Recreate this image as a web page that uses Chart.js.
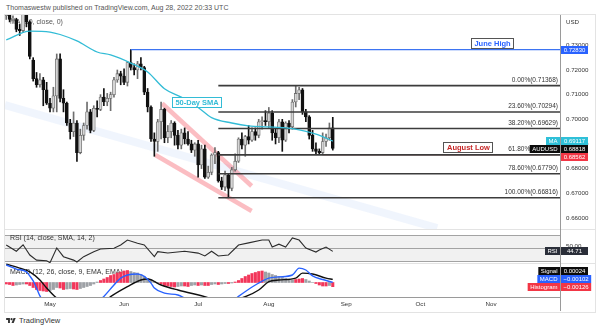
<!DOCTYPE html>
<html>
<head>
<meta charset="utf-8">
<script src="https://cdn.jsdelivr.net/npm/chart.js@4.4.0/dist/chart.umd.min.js"></script>
<style>
	body { margin: 0; width: 600px; height: 330px; background: #fff; position: relative; overflow: hidden; font-family: "Liberation Sans", Arial, sans-serif; }
	#header { position: absolute; left: 6px; top: 4px; font-size: 7px; color: #555; white-space: nowrap; }
	#frame { position: absolute; left: 4px; top: 14px; width: 590px; height: 297px; border: 1px solid #e3e3e3; }
	canvas { position: absolute; left: 5px; }
	#main { top: 15px; }
	#rsi { top: 229px; }
	#macd { top: 263px; }
	#brand { position: absolute; left: 6px; top: 316px; font-size: 7.5px; color: #333; display: flex; align-items: center; gap: 3px; }
</style>
</head>
<body>
<div id="header">Thomaswestw published on TradingView.com, Aug 28, 2022 20:33 UTC</div>
<div id="frame"></div>
<canvas id="main" width="590" height="214"></canvas>
<canvas id="rsi" width="590" height="34"></canvas>
<canvas id="macd" width="590" height="48"></canvas>
<div id="brand"><svg width="10" height="7" viewBox="0 0 36 26"><path d="M14 22H7V11H0V4h14z" fill="#333"/><circle cx="20" cy="8" r="4" fill="#333"/><path d="M28 22h-8l7.5-18h8z" fill="#333"/></svg><span>TradingView</span></div>
<script>
// AUDUSD daily bars, bar index 0 = May 2 2022 (trading days)
const firstBar = -13;
const open = [0.7420,0.7448,0.7405,0.7405,0.7365,0.7360,0.7445,0.7395,0.7240,0.7165,0.7140,0.7160,0.7120,
	0.7065,0.7045,0.7095,0.7245,0.7085,0.7065,0.6985,0.6950,0.6985,0.6865,0.6935,0.6975,0.7030,0.6955,0.7045,0.7040,0.7090,0.7070,0.7085,0.7100,0.7160,0.7185,
	0.7175,0.7150,0.7230,0.7210,0.7200,0.7225,0.7210,0.7110,0.7050,0.6920,0.6910,0.6990,0.7040,0.6925,0.6950,0.6985,0.6935,0.6895,0.6945,0.6920,0.6900,0.6875,
	0.6900,0.6815,0.6880,0.6765,0.6785,0.6855,0.6865,0.6750,0.6725,0.6775,0.6720,0.6795,0.6830,0.6920,0.6895,0.6930,0.6915,0.6950,0.6935,0.6990,0.6995,
	0.6990,0.7025,0.6945,0.6925,0.6990,0.6915,0.6985,0.6970,0.7070,0.7105,0.7120,0.7030,0.7010,0.6935,0.6880,0.6870,0.6865,0.6910,0.6925,0.6965];
const high = [0.7458,0.7460,0.7420,0.7410,0.7385,0.7456,0.7460,0.7400,0.7250,0.7190,0.7185,0.7170,0.7150,
	0.7085,0.7130,0.7265,0.7266,0.7120,0.7070,0.7000,0.7030,0.6995,0.6960,0.6985,0.7070,0.7040,0.7055,0.7075,0.7100,0.7125,0.7105,0.7110,0.7170,0.7200,0.7195,
	0.7205,0.7235,0.7283,0.7225,0.7235,0.7250,0.7215,0.7125,0.7055,0.6945,0.7000,0.7070,0.7045,0.6975,0.6995,0.6990,0.6955,0.6960,0.6965,0.6950,0.6915,0.6905,
	0.6915,0.6895,0.6895,0.6810,0.6860,0.6885,0.6870,0.6765,0.6790,0.6780,0.6805,0.6860,0.6925,0.6945,0.6935,0.6975,0.6965,0.6965,0.7000,0.7010,0.7035,
	0.7048,0.7035,0.6960,0.7000,0.7000,0.6990,0.6995,0.7080,0.71368,0.7130,0.7125,0.7040,0.7015,0.6955,0.6905,0.6880,0.6945,0.6940,0.6985,0.7008];
const low = [0.7405,0.7395,0.7398,0.7355,0.7340,0.7352,0.7375,0.7245,0.7155,0.7130,0.7130,0.7055,0.7060,
	0.7030,0.7030,0.7030,0.7070,0.7030,0.6975,0.6920,0.6930,0.6829,0.6860,0.6915,0.6960,0.6945,0.6950,0.7010,0.7035,0.7055,0.7055,0.7035,0.7090,0.7150,0.7140,
	0.7140,0.7135,0.7200,0.7180,0.7165,0.7200,0.7100,0.7030,0.6910,0.6850,0.6870,0.6920,0.6905,0.6905,0.6925,0.6895,0.6880,0.6880,0.6900,0.6895,0.6865,0.6850,
	0.6765,0.6800,0.6760,0.6760,0.6775,0.6820,0.6745,0.6715,0.6710,0.66816,0.6710,0.6790,0.6825,0.6880,0.6850,0.6900,0.6910,0.6915,0.6925,0.6960,0.6975,
	0.6965,0.6915,0.6900,0.6905,0.6870,0.6910,0.6945,0.6960,0.7050,0.7080,0.7020,0.6990,0.6920,0.6870,0.6860,0.6860,0.68562,0.6890,0.6915,0.6875];
const close = [0.7448,0.7405,0.7410,0.7365,0.7360,0.7445,0.7395,0.7255,0.7165,0.7140,0.7160,0.7120,0.7065,
	0.7045,0.7095,0.7245,0.7085,0.7065,0.6985,0.6950,0.6985,0.6865,0.6935,0.6975,0.7030,0.6955,0.7045,0.7040,0.7090,0.7070,0.7085,0.7100,0.7160,0.7185,0.7175,
	0.7150,0.7230,0.7210,0.7200,0.7225,0.7210,0.7110,0.7050,0.6920,0.6910,0.6990,0.7040,0.6925,0.6950,0.6985,0.6935,0.6895,0.6945,0.6920,0.6900,0.6875,0.6900,
	0.6815,0.6880,0.6765,0.6785,0.6855,0.6865,0.6750,0.6725,0.6775,0.6720,0.6795,0.6830,0.6920,0.6895,0.6930,0.6915,0.6950,0.6935,0.6990,0.6995,0.6990,
	0.7025,0.6945,0.6925,0.6990,0.6915,0.6985,0.6970,0.7070,0.7105,0.7120,0.7030,0.7010,0.6935,0.6880,0.6870,0.6865,0.6910,0.6925,0.6965,0.68818];

// 50-day SMA
const smaIdx = [-13,-6,0,3,8,14,18,24,29,34,39,44,48,54,59,65,70,74,78,81,84];
const smaVal = [0.7322,0.7358,0.7354,0.7344,0.7318,0.7273,0.7261,0.7228,0.7192,0.7124,0.7090,0.7048,0.7007,0.6985,0.6973,0.6969,0.6965,0.6957,0.6944,0.6930,0.69117];

// fibonacci retracement, Jul 14 low to Aug 11 high
const fibStart = 50;
const fibPct = ['0.00%','23.60%','38.20%','61.80%','78.60%','100.00%'];
const fibPrice = [0.71368,0.70294,0.69629,0.68555,0.67790,0.66816];

const juneHigh = 0.72830, juneHighBar = 24;
const augustLow = 0.68562, augustLowBar = 81;

// trend lines: [bar, price] pairs
const wedgeUpper = [[33.3,0.70641],[59.9,0.67294]];
const wedgeLower = [[31.3,0.68552],[59.9,0.66280]];
const channelBand = [[-13.4,0.70580],[115,0.65590]];

// RSI (14)
const rsiIdx = [-13,-10,-8,-6,-4,-1,0,2,4,7,8,10,13,15,19,21,23,26,28,31,32,35,40,44,46,48,50,53,56,59,63,65,66,68,70,72,74,76,79,80,82,84];
const rsiVal = [54.7,45,55,39,31,30,27,50,36.4,31,28,36.4,44.2,48.4,49.5,54.7,62.5,57.4,54.7,36.4,44.2,42.2,45,42,37.5,45,37.5,39,54.7,58,62.5,62.5,51.5,56,51.5,65.7,62.5,50,43.7,47,51.5,44.71];

// MACD (12, 26, 9)
const macdIdx = [-13,-10,-7,-6,-5,-4,-3,-1,2,6,10,13,16,19,21,23,26,28,30,31,34,38,40,43,47,51,55,56,61,65,68,72,74,76,78,81,84];
const macdVal = [0.0063,0.0046,0.0034,0.0017,-0.0004,-0.0034,-0.0067,-0.0105,-0.0126,-0.0139,-0.0134,-0.0105,-0.0069,-0.0021,0.0008,0.0021,0.0025,0.0015,-0.0013,-0.0034,-0.0055,-0.0063,-0.0076,-0.0097,-0.0109,-0.0101,-0.0080,-0.0069,-0.0021,0.0008,0.0013,0.0021,0.0050,0.0042,0.0017,0.0002,-0.00102];
const signalIdx = [-13,-9,-6,-3,-1,2,6,12,16,18,23,27,29,33,38,45,50,54,58,62,65,68,73,75,78,82,84];
const signalVal = [0.0067,0.0050,0.0034,0,-0.0034,-0.0076,-0.0105,-0.0109,-0.0092,-0.0070,-0.0028,0,0.0004,-0.0021,-0.0042,-0.0066,-0.0084,-0.0084,-0.0070,-0.0042,-0.0007,0,0.0008,0.0029,0.0025,0.0008,0.00024];
const histVal = [-0.00045,-0.0006,-0.0009,-0.00075,-0.0006,-0.00045,-0.00045,-0.0009,-0.0015,-0.0021,-0.0024,-0.00255,-0.0027,
	-0.0024,-0.0021,-0.0015,-0.00165,-0.0021,-0.00195,-0.0018,-0.00195,-0.0021,-0.0018,-0.0015,-0.0012,-0.0009,-0.00045,0.00015,0.0006,0.00105,0.0015,0.0021,0.0024,0.00285,0.00315,
	0.00345,0.0036,0.0033,0.003,0.00285,0.0024,0.0018,0.0012,0.00075,0.0003,-0.00015,-0.00045,-0.0009,-0.00105,-0.0012,-0.00135,-0.0012,-0.00105,-0.00105,-0.0012,-0.0009,-0.00075,
	-0.0009,-0.00075,-0.0009,-0.0009,-0.0006,-0.00045,-0.0006,-0.00045,-0.0003,-0.0003,-0.00015,0.00015,0.0006,0.0012,0.0018,0.00225,0.0027,0.003,0.0033,0.00345,0.00315,
	0.00285,0.0024,0.0021,0.0018,0.0015,0.0012,0.0009,0.00075,0.0009,0.00105,0.0012,0.0009,0.00045,0,-0.0003,-0.00075,-0.00105,-0.00105,-0.0009,-0.00126];

// axis labels
const priceTicks = [0.66,0.67,0.68,0.69,0.70,0.71,0.72,0.73];
const monthIdx = [0,22,44,65,88,110,131];
const monthLabels = ['May','Jun','Jul','Aug','Sep','Oct','Nov'];

const FONT = '"Liberation Sans", Arial, sans-serif';
const X_MIN = -13.37, X_MAX = 151.5;
const AXIS_W = 35;
const UP = '#d6d6d6', UP_EDGE = '#6e6e6e', DOWN = '#111';
const SMA_COLOR = '#33bcd6';
const HIST_RED = '#f2365a', HIST_GREY = '#9ea1a6';

const bars = open.map((o, k) => ({ i: firstBar + k, o, h: high[k], l: low[k], c: close[k] }));
const pts = (xs, ys) => xs.map((x, k) => ({ x, y: ys[k] }));
const seg = (p) => p.map(([x, y]) => ({ x, y }));

function label(ctx, str, x, y, size, color, align, weight) {
	ctx.font = (weight || '') + ' ' + size + 'px ' + FONT;
	ctx.fillStyle = color;
	ctx.textAlign = align || 'left';
	ctx.textBaseline = 'middle';
	ctx.fillText(str, x, y);
}

// coloured price tag on the right axis, with an optional name box to its left
function tag(ctx, area, y, value, bg, name) {
	const h = 8;
	ctx.font = '6px ' + FONT;
	const w = Math.max(27, ctx.measureText(value).width + 5);
	ctx.fillStyle = bg;
	ctx.fillRect(area.right + 1, Math.round(y - h / 2), w, h);
	label(ctx, value, area.right + 1 + w / 2, Math.round(y - h / 2) + h / 2 + 0.5, 6, '#fff', 'center');
	if (name) {
		ctx.font = '6px ' + FONT;
		const nw = ctx.measureText(name).width + 5;
		ctx.fillStyle = bg;
		ctx.fillRect(area.right - nw, Math.round(y - h / 2), nw, h);
		label(ctx, name, area.right - nw / 2, Math.round(y - h / 2) + h / 2 + 0.5, 6, '#fff', 'center');
	}
}

function noteBox(ctx, str, cx, cy, color, border) {
	ctx.font = 'bold 7.5px ' + FONT;
	const w = Math.round(ctx.measureText(str).width + 7), h = 11;
	const x0 = Math.round(cx - w / 2), y0 = Math.round(cy - h / 2);
	ctx.fillStyle = '#fff';
	ctx.fillRect(x0, y0, w, h);
	ctx.strokeStyle = border;
	ctx.lineWidth = 1;
	ctx.strokeRect(x0 + 0.5, y0 + 0.5, w - 1, h - 1);
	label(ctx, str, cx, y0 + h / 2 + 0.5, 7.5, color, 'center', 'bold');
}

function axisLine(chart) {
	const { ctx, chartArea: a } = chart;
	ctx.fillStyle = '#9a9a9a';
	ctx.fillRect(Math.round(a.right), 0, 1, chart.height);
}

// ---------- price pane ----------
const mainDecor = {
	id: 'mainDecor',
	beforeDatasetsDraw(chart) {
		label(chart.ctx, 'MA (50, close, 0)', 5, 7.5, 7, '#555');
	},
	afterDatasetsDraw(chart) {
		const { ctx, chartArea: a, scales: { x, y } } = chart;
		ctx.save();
		fibPrice.forEach((p, k) => {
			label(ctx, fibPct[k] + '(' + p.toFixed(5) + ')', a.right - 2, y.getPixelForValue(p) - 5.5, 6.5, '#333', 'right');
		});
		noteBox(ctx, '50-Day SMA', x.getPixelForValue(43.7), y.getPixelForValue(0.70682), SMA_COLOR, SMA_COLOR);
		noteBox(ctx, 'June High', x.getPixelForValue(131.45), y.getPixelForValue(0.73075), '#2962ff', '#555');
		noteBox(ctx, 'August Low', x.getPixelForValue(124.3), y.getPixelForValue(0.68856), '#c62828', '#555');

		axisLine(chart);
		priceTicks.forEach(v => label(ctx, v.toFixed(5), a.right + 6, y.getPixelForValue(v), 6.2, '#333'));
		label(ctx, 'USD', a.right + 6, 7, 6.2, '#333');

		// stacked price tags, pushed down so they never overlap
		const tags = [
			{ v: juneHigh, bg: '#2962ff' },
			{ v: smaVal[smaVal.length - 1], bg: '#2fc0d8', name: 'MA' },
			{ v: close[close.length - 1], bg: '#0c0c0c', name: 'AUDUSD' },
			{ v: augustLow, bg: '#f23645' },
		].map(t => ({ ...t, y: y.getPixelForValue(t.v) })).sort((p, q) => p.y - q.y);
		let last = -99;
		tags.forEach(t => {
			t.y = Math.max(t.y, last + 8);
			last = t.y;
			tag(ctx, a, t.y, t.v.toFixed(5), t.bg, t.name);
		});
		ctx.restore();
	}
};

const hLine = (x0, v, color, width, order) => ({
	type: 'line', data: [{ x: x0, y: v }, { x: X_MAX, y: v }],
	borderColor: color, borderWidth: width, pointRadius: 0, order
});

const mainDatasets = [
	{ type: 'line', data: seg(channelBand), borderColor: 'rgba(90, 140, 235, 0.09)', borderWidth: 8, pointRadius: 0, order: 20 },
	{ type: 'line', data: seg(wedgeUpper), borderColor: 'rgba(242, 54, 69, 0.33)', borderWidth: 4.5, pointRadius: 0, order: 19 },
	{ type: 'line', data: seg(wedgeLower), borderColor: 'rgba(242, 54, 69, 0.33)', borderWidth: 4.5, pointRadius: 0, order: 19 },
	{
		type: 'bar', grouped: false, barThickness: 1, order: 6,
		data: bars.map(b => ({ x: b.i, y: [b.l, b.h] })),
		backgroundColor: bars.map(b => b.c >= b.o ? UP_EDGE : DOWN)
	},
	{
		type: 'bar', grouped: false, barThickness: 3, order: 5, borderSkipped: false,
		data: bars.map(b => ({ x: b.i, y: [Math.min(b.o, b.c), Math.max(b.o, b.c)] })),
		backgroundColor: bars.map(b => b.c >= b.o ? UP : DOWN),
		borderColor: bars.map(b => b.c >= b.o ? UP_EDGE : DOWN),
		borderWidth: 0.8
	},
	hLine(augustLowBar, augustLow, '#e2404f', 1, 4),
	...fibPrice.map(p => hLine(fibStart, p, '#3c3c3c', 1.6, 3)),
	hLine(juneHighBar, juneHigh, '#3d74f2', 1.2, 2),
	{ type: 'line', data: pts(smaIdx, smaVal), borderColor: SMA_COLOR, borderWidth: 1.3, pointRadius: 0, cubicInterpolationMode: 'monotone', order: 1 },
];

const baseOptions = (yScales, bottom) => ({
	responsive: false,
	animation: false,
	devicePixelRatio: 1,
	layout: { padding: { right: AXIS_W, bottom: bottom || 0 } },
	plugins: { legend: { display: false }, tooltip: { enabled: false } },
	scales: Object.assign({ x: { type: 'linear', min: X_MIN, max: X_MAX, display: false, offset: false } }, yScales)
});

new Chart(document.getElementById('main'), {
	type: 'bar',
	data: { datasets: mainDatasets },
	options: baseOptions({ y: { type: 'linear', min: 0.655497, max: 0.742312, beginAtZero: false, display: false } }),
	plugins: [mainDecor]
});

// ---------- RSI pane ----------
const rsiDecor = {
	id: 'rsiDecor',
	beforeDatasetsDraw(chart) {
		const { ctx, chartArea: a, scales: { y } } = chart;
		ctx.save();
		ctx.fillStyle = '#e3e3e3';
		ctx.fillRect(0, 0, chart.width, 1);
		const y70 = Math.round(y.getPixelForValue(70)), y30 = Math.round(y.getPixelForValue(30));
		ctx.fillStyle = '#f1f1f1';
		ctx.fillRect(a.left, y70, a.right - a.left, y30 - y70);
		ctx.fillStyle = '#a3a3a3';
		[70, 50, 30].forEach(v => ctx.fillRect(a.left, Math.round(y.getPixelForValue(v)), a.right - a.left, 1));
		label(ctx, 'RSI (14, close, SMA, 14, 2)', 5, 9, 7, '#333');
		ctx.restore();
	},
	afterDatasetsDraw(chart) {
		const { ctx, chartArea: a, scales: { y } } = chart;
		ctx.save();
		axisLine(chart);
		label(ctx, '50.00', a.right + 6, y.getPixelForValue(50) - 2, 6.2, '#333');
		tag(ctx, a, y.getPixelForValue(rsiVal[rsiVal.length - 1]), rsiVal[rsiVal.length - 1].toFixed(2), '#2a2e39', 'RSI');
		ctx.restore();
	}
};

new Chart(document.getElementById('rsi'), {
	type: 'line',
	data: { datasets: [{ data: pts(rsiIdx, rsiVal), borderColor: '#2b2b2b', borderWidth: 1.1, pointRadius: 0, tension: 0 }] },
	options: baseOptions({ y: { type: 'linear', min: 26.47, max: 79.8, display: false } }),
	plugins: [rsiDecor]
});

// ---------- MACD pane + time axis ----------
const macdDecor = {
	id: 'macdDecor',
	beforeDatasetsDraw(chart) {
		const { ctx } = chart;
		ctx.save();
		ctx.fillStyle = '#e3e3e3';
		ctx.fillRect(0, 0, chart.width, 1);
		label(ctx, 'MACD (12, 26, close, 9, EMA, EMA)', 5, 9, 7, '#333');
		ctx.restore();
	},
	afterDatasetsDraw(chart) {
		const { ctx, chartArea: a, scales: { x, yLine, yHist } } = chart;
		ctx.save();
		ctx.fillStyle = '#9a9a9a';
		ctx.fillRect(a.left, Math.round(a.bottom), a.right - a.left, 1);
		axisLine(chart);
		monthIdx.forEach((m, k) => label(ctx, monthLabels[k], x.getPixelForValue(m), a.bottom + 7.5, 6.2, '#333', 'center'));

		// tags pushed upward from the lowest one
		const tags = [
			{ v: signalVal[signalVal.length - 1], y: yLine.getPixelForValue(signalVal[signalVal.length - 1]), bg: '#0c0c0c', name: 'Signal' },
			{ v: macdVal[macdVal.length - 1], y: yLine.getPixelForValue(macdVal[macdVal.length - 1]), bg: '#2962ff', name: 'MACD' },
			{ v: histVal[histVal.length - 1], y: yHist.getPixelForValue(histVal[histVal.length - 1]), bg: '#f23645', name: 'Histogram' },
		].sort((p, q) => q.y - p.y);
		let prev = 999;
		tags.forEach(t => {
			t.y = Math.min(t.y, prev - 8);
			prev = t.y;
			tag(ctx, a, t.y, t.v.toFixed(5).replace('-', '\u2212'), t.bg, t.name);
		});
		ctx.restore();
	}
};

new Chart(document.getElementById('macd'), {
	type: 'bar',
	data: {
		datasets: [
			{
				type: 'bar', yAxisID: 'yHist', grouped: false, barThickness: 2.4, order: 3,
				data: histVal.map((v, k) => ({ x: firstBar + k, y: v })),
				backgroundColor: histVal.map((v, k) => (k === 0 || Math.abs(v) >= Math.abs(histVal[k - 1])) ? HIST_RED : HIST_GREY)
			},
			{ type: 'line', yAxisID: 'yLine', data: pts(signalIdx, signalVal), borderColor: '#111', borderWidth: 1.4, pointRadius: 0, cubicInterpolationMode: 'monotone', order: 2 },
			{ type: 'line', yAxisID: 'yLine', data: pts(macdIdx, macdVal), borderColor: '#2962ff', borderWidth: 1.4, pointRadius: 0, cubicInterpolationMode: 'monotone', order: 1 },
		]
	},
	options: baseOptions({
		yLine: { type: 'linear', min: -0.00714, max: 0.00714, display: false },
		yHist: { type: 'linear', min: -0.00435, max: 0.00585, display: false, beginAtZero: false }
	}, 14),
	plugins: [macdDecor]
});
</script>
</body>
</html>
